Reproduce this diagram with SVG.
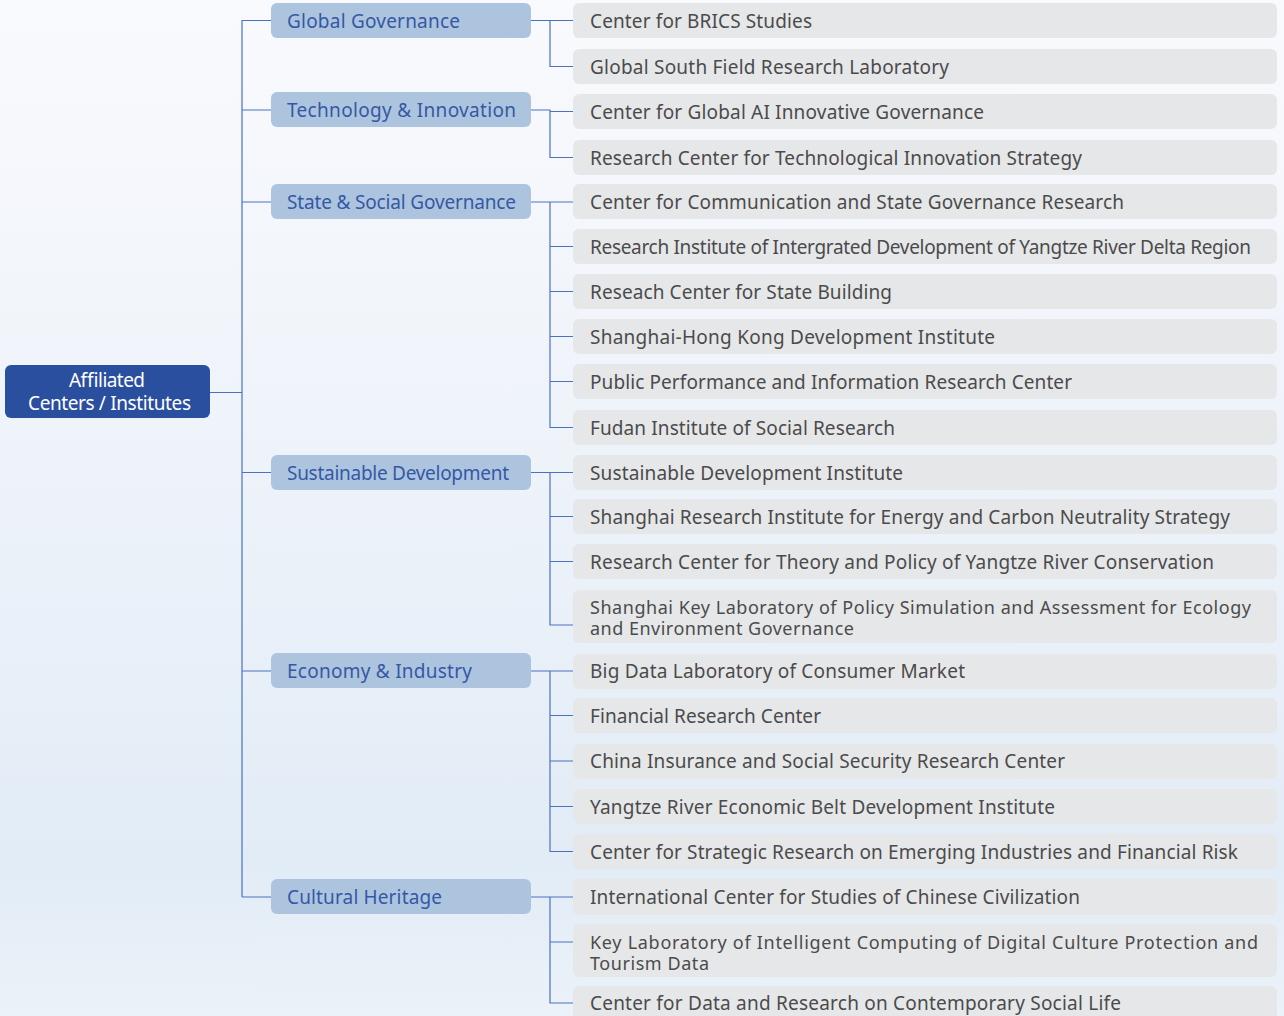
<svg xmlns="http://www.w3.org/2000/svg" width="1284" height="1016" viewBox="0 0 1284 1016">
<defs>
<linearGradient id="bg" x1="0" y1="0" x2="0" y2="1">
<stop offset="0" stop-color="#f9fafd"/>
<stop offset="0.45" stop-color="#eef3fa"/>
<stop offset="0.85" stop-color="#e2ecf6"/>
<stop offset="1" stop-color="#ebf2f9"/>
</linearGradient>
<style>
.root{fill:#2a4f9f}
.rt{fill:#ffffff;font-family:"Noto Sans","Open Sans",sans-serif;font-size:19px}
.cat{fill:#adc4de}
.ct{fill:#3558a5;font-family:"Noto Sans","Open Sans",sans-serif;font-size:19px}
.leaf{fill:#e6e7e9}
.lt{fill:#4b4b4b;font-family:"Noto Sans","Open Sans",sans-serif;font-size:19px}
.lt2{fill:#4b4b4b;font-family:"Noto Sans","Open Sans",sans-serif;font-size:18px}
.con{fill:none;stroke:#4a72c0;stroke-width:1.2}
</style>
</defs>
<rect x="0" y="0" width="1284" height="1016" fill="url(#bg)"/>
<g id="connectors">
<path class="con" d="M210 392.5H242M242 20V897M242 20.5H271M242 110H271M242 202H271M242 472.5H271M242 671H271M242 897H271"/>
<path class="con" d="M531 20.5H573M550 20.5V66.5H573"/>
<path class="con" d="M531 110H550V157.5H573M550 111.5H573"/>
<path class="con" d="M531 202H573M550 202V427.5H573M550 246.5H573M550 291.5H573M550 336.5H573M550 381.5H573"/>
<path class="con" d="M531 472.5H573M550 472.5V625H573M550 516.5H573M550 561.5H573"/>
<path class="con" d="M531 671H573M550 671V851.5H573M550 715.5H573M550 761H573M550 806.5H573"/>
<path class="con" d="M531 897H573M550 897V1003H573M550 942H573"/>
</g>
<g id="root"><rect class="root" x="5" y="365" width="205" height="53" rx="6"/><text class="rt" x="69" y="387" textLength="76">Affiliated</text><text class="rt" x="28" y="410" textLength="163">Centers / Institutes</text></g>
<g id="cat-global"><rect class="cat" x="271" y="3" width="260" height="35" rx="6"/><text class="ct" x="287" y="27.5" textLength="173">Global Governance</text></g>
<g id="cat-tech"><rect class="cat" x="271" y="92" width="260" height="35" rx="6"/><text class="ct" x="287" y="117" textLength="229">Technology &amp; Innovation</text></g>
<g id="cat-state"><rect class="cat" x="271" y="184" width="260" height="35" rx="6"/><text class="ct" x="287" y="209" textLength="229">State &amp; Social Governance</text></g>
<g id="cat-sust"><rect class="cat" x="271" y="455" width="260" height="35" rx="6"/><text class="ct" x="287" y="480" textLength="222">Sustainable Development</text></g>
<g id="cat-econ"><rect class="cat" x="271" y="653" width="260" height="35" rx="6"/><text class="ct" x="287" y="678" textLength="185">Economy &amp; Industry</text></g>
<g id="cat-cult"><rect class="cat" x="271" y="879" width="260" height="35" rx="6"/><text class="ct" x="287" y="904" textLength="155">Cultural Heritage</text></g>
<g id="leaf1"><rect class="leaf" x="573" y="3" width="704" height="35" rx="6"/><text class="lt" x="590" y="28" textLength="222">Center for BRICS Studies</text></g>
<g id="leaf2"><rect class="leaf" x="573" y="49" width="704" height="35" rx="6"/><text class="lt" x="590" y="74" textLength="359">Global South Field Research Laboratory</text></g>
<g id="leaf3"><rect class="leaf" x="573" y="94" width="704" height="35" rx="6"/><text class="lt" x="590" y="119" textLength="394">Center for Global AI Innovative Governance</text></g>
<g id="leaf4"><rect class="leaf" x="573" y="140" width="704" height="35" rx="6"/><text class="lt" x="590" y="165" textLength="492">Research Center for Technological Innovation Strategy</text></g>
<g id="leaf5"><rect class="leaf" x="573" y="184" width="704" height="35" rx="6"/><text class="lt" x="590" y="209" textLength="534">Center for Communication and State Governance Research</text></g>
<g id="leaf6"><rect class="leaf" x="573" y="229" width="704" height="35" rx="6"/><text class="lt" x="590" y="254" textLength="661">Research Institute of Intergrated Development of Yangtze River Delta Region</text></g>
<g id="leaf7"><rect class="leaf" x="573" y="274" width="704" height="35" rx="6"/><text class="lt" x="590" y="299" textLength="302">Reseach Center for State Building</text></g>
<g id="leaf8"><rect class="leaf" x="573" y="319" width="704" height="35" rx="6"/><text class="lt" x="590" y="344" textLength="405">Shanghai-Hong Kong Development Institute</text></g>
<g id="leaf9"><rect class="leaf" x="573" y="364" width="704" height="35" rx="6"/><text class="lt" x="590" y="389" textLength="482">Public Performance and Information Research Center</text></g>
<g id="leaf10"><rect class="leaf" x="573" y="410" width="704" height="35" rx="6"/><text class="lt" x="590" y="435" textLength="305">Fudan Institute of Social Research</text></g>
<g id="leaf11"><rect class="leaf" x="573" y="455" width="704" height="35" rx="6"/><text class="lt" x="590" y="480" textLength="313">Sustainable Development Institute</text></g>
<g id="leaf12"><rect class="leaf" x="573" y="499" width="704" height="35" rx="6"/><text class="lt" x="590" y="524" textLength="640">Shanghai Research Institute for Energy and Carbon Neutrality Strategy</text></g>
<g id="leaf13"><rect class="leaf" x="573" y="544" width="704" height="35" rx="6"/><text class="lt" x="590" y="569" textLength="624">Research Center for Theory and Policy of Yangtze River Conservation</text></g>
<g id="leaf14"><rect class="leaf" x="573" y="590" width="704" height="53" rx="6"/><text class="lt2" x="590" y="613.5" textLength="661">Shanghai Key Laboratory of Policy Simulation and Assessment for Ecology</text><text class="lt2" x="590" y="634.5" textLength="264">and Environment Governance</text></g>
<g id="leaf15"><rect class="leaf" x="573" y="654" width="704" height="35" rx="6"/><text class="lt" x="590" y="678" textLength="375">Big Data Laboratory of Consumer Market</text></g>
<g id="leaf16"><rect class="leaf" x="573" y="698" width="704" height="35" rx="6"/><text class="lt" x="590" y="723" textLength="231">Financial Research Center</text></g>
<g id="leaf17"><rect class="leaf" x="573" y="744" width="704" height="35" rx="6"/><text class="lt" x="590" y="768" textLength="475">China Insurance and Social Security Research Center</text></g>
<g id="leaf18"><rect class="leaf" x="573" y="789" width="704" height="35" rx="6"/><text class="lt" x="590" y="814" textLength="465">Yangtze River Economic Belt Development Institute</text></g>
<g id="leaf19"><rect class="leaf" x="573" y="834" width="704" height="35" rx="6"/><text class="lt" x="590" y="859" textLength="648">Center for Strategic Research on Emerging Industries and Financial Risk</text></g>
<g id="leaf20"><rect class="leaf" x="573" y="879" width="704" height="36" rx="6"/><text class="lt" x="590" y="904" textLength="490">International Center for Studies of Chinese Civilization</text></g>
<g id="leaf21"><rect class="leaf" x="573" y="924" width="704" height="53" rx="6"/><text class="lt2" x="590" y="948.5" textLength="668">Key Laboratory of Intelligent Computing of Digital Culture Protection and</text><text class="lt2" x="590" y="969.5" textLength="119">Tourism Data</text></g>
<g id="leaf22"><rect class="leaf" x="573" y="986" width="704" height="35" rx="6"/><text class="lt" x="590" y="1010" textLength="531">Center for Data and Research on Contemporary Social Life</text></g>
</svg>
